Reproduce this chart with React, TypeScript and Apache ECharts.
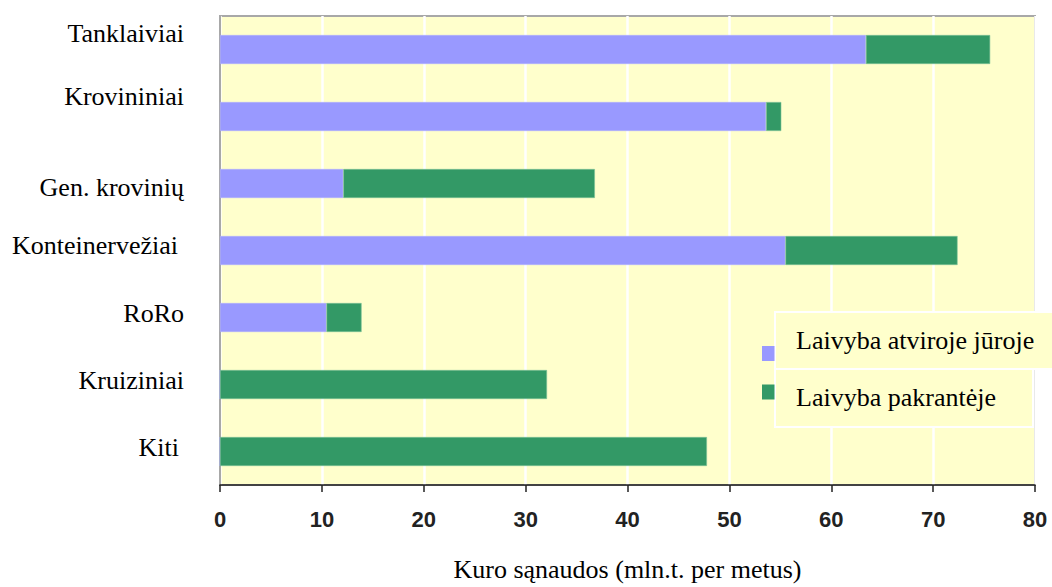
import React, { useEffect, useRef } from "react";
import * as echarts from "echarts";

// Vessel types, top to bottom
const categories = [
  "Tanklaiviai",
  "Krovininiai",
  "Gen. krovinių",
  "Konteinervežiai",
  "RoRo",
  "Kruiziniai",
  "Kiti",
];

const seriesNames = ["Laivyba atviroje jūroje", "Laivyba pakrantėje"];

// Fuel consumption, mln. t per year
const openSea = [63.4, 53.6, 12.1, 55.5, 10.45, 0, 0];
const coastal = [12.2, 1.5, 24.7, 16.9, 3.45, 32.1, 47.8];

const xTicks = [0, 10, 20, 30, 40, 50, 60, 70, 80];

const axisTitle = "Kuro sąnaudos (mln.t. per metus)";

const BLUE = "#9999FF";
const GREEN = "#339966";
const PLOT_BG = "#FFFFCC";
const SERIF = "'Liberation Serif', 'Times New Roman', serif";
const SANS = "'Liberation Sans', Arial, sans-serif";

// vertical nudges of the category labels (px, positive = up) and right padding
const labelShift = [16, 20, -4, 5, 4, 4, 4];
const labelPadRight = [0, 0, 0, 6, 0, 0, 5];

export default function App() {
  const ref = useRef<HTMLDivElement>(null);

  useEffect(() => {
    if (!ref.current) return;
    const chart = echarts.init(ref.current, null, { renderer: "svg" });

    const rich: Record<string, any> = {};
    categories.forEach((_, i) => {
      const s = labelShift[i];
      rich["c" + i] = {
        fontFamily: SERIF,
        fontSize: 26,
        color: "#000",
        padding: [s < 0 ? -2 * s : 0, labelPadRight[i], s > 0 ? 2 * s : 0, 0],
      };
    });

    chart.setOption({
      animation: false,
      backgroundColor: "#ffffff",
      grid: {
        left: 220,
        right: 17,
        top: 16,
        bottom: 98,
        show: true,
        backgroundColor: PLOT_BG,
        borderColor: "#a8a8a8",
        borderWidth: 2,
      },
      xAxis: {
        type: "value",
        min: xTicks[0],
        max: xTicks[xTicks.length - 1],
        interval: 10,
        axisLine: { show: true, lineStyle: { color: "#222", width: 1.5 } },
        axisTick: {
          show: true,
          length: 7,
          lineStyle: { color: "#222", width: 1.5 },
        },
        splitLine: { show: true, lineStyle: { color: "#ffffff", width: 2.5 } },
        axisLabel: {
          fontFamily: SANS,
          fontSize: 22,
          fontWeight: "bold",
          color: "#222",
          margin: 23,
        },
        name: axisTitle,
        nameLocation: "middle",
        nameGap: 71,
        nameTextStyle: { fontFamily: SERIF, fontSize: 26, color: "#000" },
      },
      yAxis: {
        type: "category",
        data: categories,
        inverse: true,
        axisLine: { show: true, lineStyle: { color: "#a8a8a8", width: 2 } },
        axisTick: { show: false },
        splitLine: { show: false },
        axisLabel: {
          margin: 36,
          formatter: (v: string, i: number) => `{c${i}|${v}}`,
          rich,
        },
      },
      series: [
        {
          name: seriesNames[0],
          type: "bar",
          stack: "total",
          data: openSea,
          barWidth: 29,
          itemStyle: { color: BLUE, borderColor: "#b0b0ff", borderWidth: 0.6 },
        },
        {
          name: seriesNames[1],
          type: "bar",
          stack: "total",
          data: coastal,
          barWidth: 29,
          itemStyle: { color: GREEN, borderColor: "#7fc39a", borderWidth: 0.6 },
        },
      ],
      graphic: [
        // legend boxes
        {
          type: "rect",
          shape: { x: 775, y: 312, width: 280, height: 57 },
          style: { fill: PLOT_BG, stroke: "#ffffff", lineWidth: 2 },
          z: 10,
        },
        {
          type: "rect",
          shape: { x: 775, y: 369, width: 258, height: 58 },
          style: { fill: PLOT_BG, stroke: "#ffffff", lineWidth: 2 },
          z: 10,
        },
        {
          type: "rect",
          shape: { x: 762, y: 346, width: 12.5, height: 15 },
          style: { fill: BLUE },
          z: 10,
        },
        {
          type: "rect",
          shape: { x: 762, y: 384.5, width: 12.5, height: 15 },
          style: { fill: GREEN },
          z: 10,
        },
        {
          type: "text",
          x: 796,
          y: 340,
          style: {
            text: seriesNames[0],
            fontFamily: SERIF,
            fontSize: 26,
            fill: "#000",
            verticalAlign: "middle",
          },
          z: 11,
        },
        {
          type: "text",
          x: 796,
          y: 397,
          style: {
            text: seriesNames[1],
            fontFamily: SERIF,
            fontSize: 26,
            fill: "#000",
            verticalAlign: "middle",
          },
          z: 11,
        },
      ],
    });

    return () => chart.dispose();
  }, []);

  return (
    <div
      ref={ref}
      style={{ position: "fixed", left: 0, top: 0, width: 1052, height: 587 }}
    />
  );
}
